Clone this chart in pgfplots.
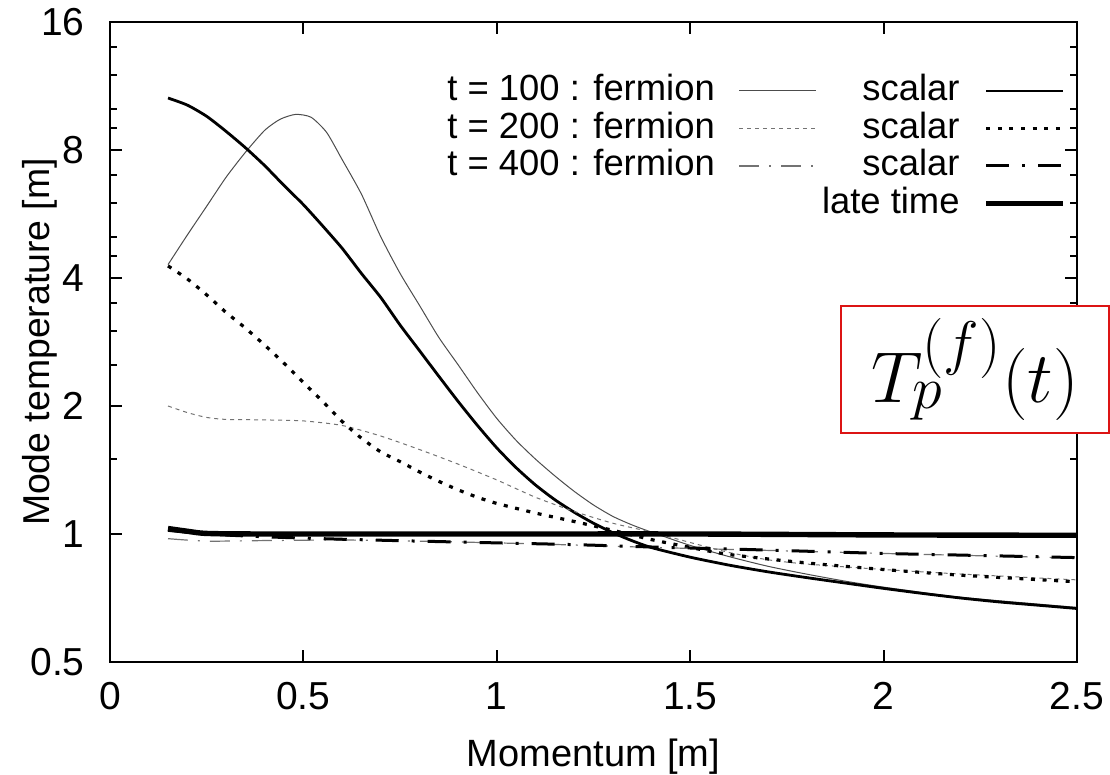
\documentclass[border=0pt]{standalone}
\usepackage{fontspec}
\setmainfont{Liberation Sans}
\usepackage{pgfplots}
\pgfplotsset{compat=1.18}
\usepackage{graphicx}
\definecolor{boxred}{RGB}{220,20,20}

\begin{document}
\begin{tikzpicture}
\begin{axis}[
  at={(0pt,0pt)}, anchor=south west,
  scale only axis, width=483.5pt, height=320pt,
  xmin=0, xmax=2.5, ymin=0.5, ymax=16,
  ymode=log,
  xtick={0,0.5,1,1.5,2,2.5}, xticklabels={0,0.5,1,1.5,2,2.5},
  ytick={0.5,1,2,4,8,16}, yticklabels={0.5,1,2,4,8,16},
  minor ytick={1.5,2.5,3,3.5,4.5,5,6,7,9,10,12,14},
  axis line style={line width=1.2pt},
  major tick length=6pt, minor tick length=3.5pt,
  every tick/.style={black, line width=1pt},
  /pgf/number format/assume math mode=true,
  tick label style={font=\fontsize{19.5}{20}\selectfont},
  xticklabel style={inner sep=0pt, anchor=north, yshift=-10pt},
  yticklabel style={inner sep=0pt, anchor=east, xshift=-12.5pt},
  xlabel={Momentum [m]}, ylabel={Mode temperature [m]},
  every axis x label/.style={at={(axis description cs:0.5,-0.1203)}, anchor=north, inner sep=0pt, font=\fontsize{19}{21}\selectfont},
  every axis y label/.style={at={(axis description cs:-0.0538,0.5)}, rotate=90, anchor=south, inner sep=0pt, font=\fontsize{18.7}{20}\selectfont},
  legend columns=2, legend plot pos=right, legend cell align=right,
  legend style={draw=none, fill=none, inner sep=0pt, outer sep=0pt,
    at={(axis description cs:0.9886,0.91875)}, anchor=north east,
    font=\fontsize{18.2}{20}\selectfont,
    nodes={inner sep=0pt, text height=13.5pt, text depth=3.5pt},
    row sep=1.75pt,
    /tikz/every odd column/.append style={column sep=12pt},
    /tikz/every even column/.append style={column sep=2.5pt}},
  legend image code/.code={\draw[#1] (0pt,0pt) -- (38.5pt,0pt);},
]
% t=100 fermion
\addplot[black!70, line width=0.5pt, smooth, tension=0.4] coordinates {
(0.15,4.3)(0.20,5.05)(0.25,5.9)(0.30,6.9)(0.35,7.9)(0.40,8.9)(0.44,9.45)(0.48,9.7)(0.52,9.55)(0.56,8.8)(0.60,7.6)(0.65,6.3)(0.70,5.0)(0.75,4.1)(0.80,3.45)(0.85,2.9)(0.90,2.5)(0.95,2.15)(1.00,1.87)(1.05,1.66)(1.10,1.5)(1.15,1.37)(1.20,1.26)(1.25,1.17)(1.30,1.1)(1.35,1.05)(1.40,1.01)(1.50,0.94)(1.60,0.885)(1.70,0.84)(1.80,0.805)(1.90,0.775)(2.00,0.75)(2.20,0.71)(2.50,0.672)};
\addlegendentry{t = 100 : fermion}
% t=100 scalar
\addplot[black, line width=1.4pt, smooth, tension=0.4] coordinates {
(0.15,10.6)(0.20,10.2)(0.25,9.6)(0.30,8.85)(0.35,8.1)(0.40,7.35)(0.45,6.6)(0.50,5.95)(0.55,5.3)(0.60,4.7)(0.65,4.1)(0.70,3.6)(0.75,3.1)(0.80,2.7)(0.85,2.35)(0.90,2.05)(0.95,1.80)(1.00,1.594)(1.05,1.432)(1.10,1.304)(1.15,1.204)(1.20,1.125)(1.25,1.06)(1.30,1.007)(1.35,0.964)(1.40,0.929)(1.50,0.882)(1.60,0.845)(1.70,0.815)(1.80,0.79)(1.90,0.767)(2.00,0.745)(2.10,0.725)(2.20,0.707)(2.30,0.692)(2.40,0.68)(2.50,0.668)};
\addlegendentry{scalar}
% t=200 fermion
\addplot[black!55, line width=0.5pt, dash pattern=on 2pt off 2pt, smooth, tension=0.4] coordinates {
(0.15,2.0)(0.20,1.93)(0.25,1.88)(0.30,1.86)(0.40,1.855)(0.50,1.845)(0.60,1.80)(0.70,1.70)(0.80,1.58)(0.90,1.46)(1.00,1.34)(1.10,1.22)(1.20,1.13)(1.30,1.06)(1.40,1.01)(1.50,0.955)(1.60,0.905)(1.70,0.87)(1.80,0.85)(2.00,0.825)(2.20,0.805)(2.50,0.78)};
\addlegendentry{t = 200 : fermion}
% t=200 scalar
\addplot[black, line width=1.6pt, dash pattern=on 2pt off 3.8pt, smooth, tension=0.4] coordinates {
(0.15,4.27)(0.20,3.98)(0.25,3.65)(0.30,3.32)(0.35,3.05)(0.40,2.78)(0.45,2.52)(0.50,2.27)(0.55,2.05)(0.60,1.84)(0.65,1.68)(0.70,1.56)(0.75,1.48)(0.80,1.40)(0.85,1.33)(0.90,1.27)(0.95,1.22)(1.00,1.18)(1.10,1.12)(1.20,1.07)(1.30,1.02)(1.40,0.97)(1.50,0.93)(1.60,0.895)(1.80,0.855)(2.00,0.825)(2.20,0.80)(2.50,0.772)};
\addlegendentry{scalar}
% t=400 fermion
\addplot[black!55, line width=0.6pt, dash pattern=on 10pt off 5pt on 1pt off 5pt, smooth, tension=0.4] coordinates {
(0.15,0.975)(0.25,0.962)(0.40,0.965)(0.60,0.968)(0.80,0.962)(1.00,0.953)(1.20,0.942)(1.40,0.93)(1.60,0.92)(1.80,0.91)(2.00,0.90)(2.20,0.891)(2.50,0.878)};
\addlegendentry{t = 400 : fermion}
% t=400 scalar
\addplot[black, line width=1.5pt, dash pattern=on 11.5pt off 6.5pt on 1.5pt off 6.5pt, smooth, tension=0.4] coordinates {
(0.15,1.02)(0.25,1.0)(0.40,0.985)(0.60,0.972)(0.80,0.962)(1.00,0.953)(1.20,0.944)(1.40,0.932)(1.60,0.922)(1.80,0.911)(2.00,0.90)(2.20,0.892)(2.50,0.88)};
\addlegendentry{scalar}
\addlegendimage{empty legend}
\addlegendentry{}
% late time
\addplot[black, line width=2.7pt, smooth, tension=0.4] coordinates {
(0.15,1.03)(0.20,1.015)(0.25,1.003)(0.40,1.0)(1.0,1.0)(1.5,1.0)(2.0,0.995)(2.5,0.993)};
\addlegendentry{late time}
\end{axis}
\node[draw=boxred, line width=1pt, fill=white, minimum width=134pt, minimum height=63.5pt, anchor=north west, inner sep=0pt] at (365pt,178.5pt) {\scalebox{1.45}{\fontsize{24.88}{30}\selectfont $T_p^{(f)}(t)$}};
\pgfresetboundingbox
\path (-55pt,-56.5pt) rectangle (500pt,331pt);
\end{tikzpicture}
\end{document}
